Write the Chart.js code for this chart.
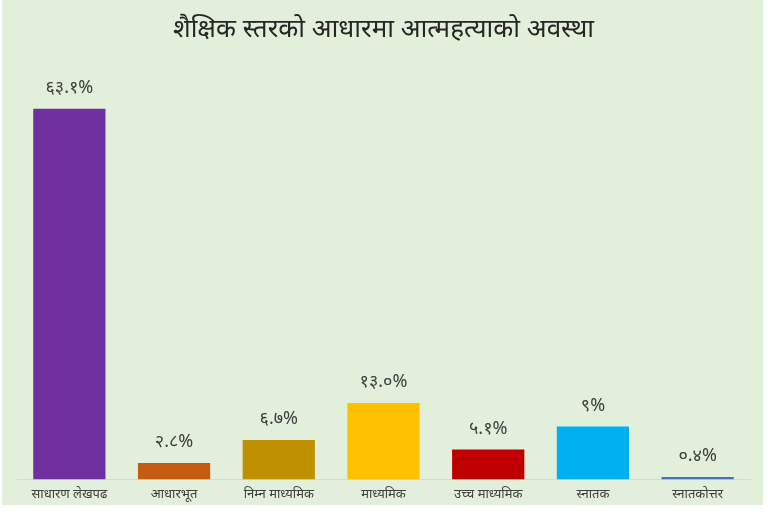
<!DOCTYPE html>
<html>
<head>
<meta charset="utf-8">
<script src="https://cdn.jsdelivr.net/npm/chart.js@4"></script>
<style>
  body { margin: 0; background: #fff; }
  #wrap { position: absolute; left: 2px; top: 0; width: 761px; height: 505px; background: #e2efda; overflow: hidden; }
</style>
</head>
<body>
<div id="wrap"><canvas id="chart" width="761" height="505"></canvas></div>
<script>
// शैक्षिक स्तर
const categories = ['साधारण लेखपढ', 'आधारभूत', 'निम्न माध्यमिक', 'माध्यमिक', 'उच्च माध्यमिक', 'स्नातक', 'स्नातकोत्तर']
const values = [63.1, 2.8, 6.7, 13.0, 5.1, 9, 0.4]
const valueLabels = ['६३.१%', '२.८%', '६.७%', '१३.०%', '५.१%', '९%', '०.४%']
const barColors = ['#7030a0', '#c55a11', '#bf9000', '#ffc000', '#c00000', '#00b0f0', '#4472c4']

const fontStack = '"Noto Sans", "Noto Sans Devanagari", "Lohit Devanagari", "FreeSans", sans-serif'

// draw value labels above bars
const barLabels = {
    id: 'barLabels',
    afterDatasetsDraw(chart) {
        const ctx = chart.ctx
        const meta = chart.getDatasetMeta(0)
        ctx.save()
        ctx.font = '18px ' + fontStack
        ctx.fillStyle = '#404040'
        ctx.textAlign = 'center'
        ctx.textBaseline = 'middle'
        meta.data.forEach((bar, i) => {
            ctx.fillText(valueLabels[i], bar.x, bar.y - 21)
        })
        ctx.restore()
    }
}

const ctx = document.getElementById('chart').getContext('2d')
new Chart(ctx, {
    type: 'bar',
    data: {
        labels: categories,
        datasets: [{
            data: values,
            backgroundColor: barColors,
            borderWidth: 0,
            barPercentage: 0.69,
            categoryPercentage: 1
        }]
    },
    options: {
        responsive: false,
        animation: false,
        layout: { padding: { left: 15, right: 13, top: 1, bottom: -4 } },
        plugins: {
            legend: { display: false },
            tooltip: { enabled: false },
            title: {
                display: true,
                text: 'शैक्षिक स्तरको आधारमा आत्महत्याको अवस्था',
                color: '#262626',
                font: { family: fontStack, size: 26, weight: 'normal' },
                padding: { top: 13, bottom: 23 }
            }
        },
        scales: {
            y: {
                display: false,
                min: 0,
                max: 70
            },
            x: {
                grid: { display: false, drawTicks: false },
                border: { display: true, color: '#d9d9d9', width: 1 },
                ticks: {
                    color: '#404040',
                    padding: 7,
                    font: { family: fontStack, size: 13 }
                }
            }
        }
    },
    plugins: [barLabels]
})
</script>
</body>
</html>
